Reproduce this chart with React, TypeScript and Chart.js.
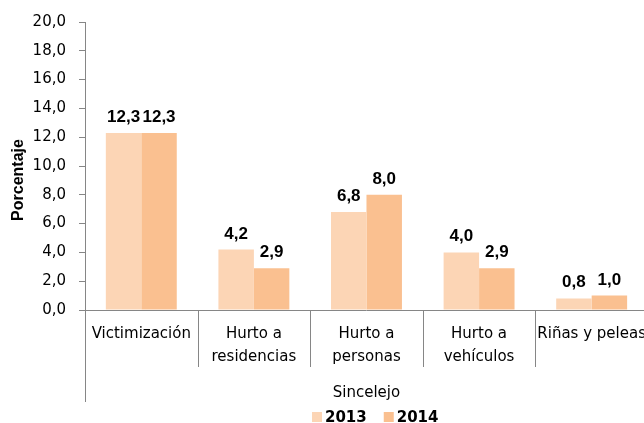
import React, { useEffect, useRef } from 'react';
import { Chart, registerables } from 'chart.js';

Chart.register(...registerables);

const categories: (string | string[])[] = [
  'Victimización',
  ['Hurto a', 'residencias'],
  ['Hurto a', 'personas'],
  ['Hurto a', 'vehículos'],
  'Riñas y peleas',
];
const series2013 = [12.3, 4.2, 6.8, 4.0, 0.8];
const series2014 = [12.3, 2.9, 8.0, 2.9, 1.0];
const seriesLabels = ['2013', '2014'];
const seriesColors = ['#FCD5B5', '#FAC090'];
const yTicksMin = 0;
const yTicksMax = 20;
const yTicksStep = 2;
const axisTitle = 'Porcentaje';
const groupTitle = 'Sincelejo';

const FONT = "'DejaVu Sans', sans-serif";
const BOLDFONT = "'Liberation Sans', Arial, sans-serif";
const GRAY = '#868686';

const fmt = (v: number) => v.toFixed(1).replace('.', ',');

const overlayPlugin = {
  id: 'overlay',
  afterDraw(chart: any) {
    const ctx = chart.ctx as CanvasRenderingContext2D;
    const area = chart.chartArea;
    const xs = chart.scales.x;
    ctx.save();

    // category separators and extended axis line
    ctx.strokeStyle = GRAY;
    ctx.lineWidth = 1;
    const n = categories.length;
    const step = xs.getPixelForValue(1) - xs.getPixelForValue(0);
    const start = xs.getPixelForValue(0) - step / 2;
    for (let i = 0; i <= n; i++) {
      const px = Math.round(start + i * step) + 0.5;
      ctx.beginPath();
      ctx.moveTo(px, area.bottom);
      ctx.lineTo(px, i === 0 ? 402 : 367);
      ctx.stroke();
    }

    // data labels
    ctx.fillStyle = '#000';
    ctx.font = `bold 17px ${BOLDFONT}`;
    ctx.textAlign = 'center';
    ctx.textBaseline = 'alphabetic';
    chart.data.datasets.forEach((ds: any, di: number) => {
      const meta = chart.getDatasetMeta(di);
      meta.data.forEach((el: any, i: number) => {
        ctx.fillText(fmt(ds.data[i]), el.x, el.y - 11);
      });
    });

    // group title
    ctx.font = `15px ${FONT}`;
    ctx.textBaseline = 'middle';
    ctx.fillText(groupTitle, (area.left + area.right) / 2, 393);

    // y axis title
    ctx.save();
    ctx.translate(19, 180);
    ctx.rotate(-Math.PI / 2);
    ctx.font = `bold 16px ${BOLDFONT}`;
    ctx.textAlign = 'center';
    ctx.textBaseline = 'middle';
    ctx.fillText(axisTitle, 0, 0);
    ctx.restore();

    // legend
    let lx = 312;
    ctx.font = `bold 15px ${FONT}`;
    ctx.textAlign = 'left';
    ctx.textBaseline = 'alphabetic';
    chart.data.datasets.forEach((ds: any) => {
      ctx.fillStyle = ds.backgroundColor;
      ctx.fillRect(lx, 412, 10, 10);
      ctx.fillStyle = '#000';
      ctx.fillText(ds.label, lx + 13, 422);
      lx += 13 + ctx.measureText(ds.label).width + 17;
    });

    ctx.restore();
  },
};

export default function App() {
  const ref = useRef<HTMLCanvasElement>(null);

  useEffect(() => {
    if (!ref.current) return;
    const chart = new Chart(ref.current, {
      type: 'bar',
      data: {
        labels: categories as any,
        datasets: [
          {
            label: seriesLabels[0],
            data: series2013,
            backgroundColor: seriesColors[0],
            borderWidth: 0,
            categoryPercentage: 0.63,
            barPercentage: 1.0,
          },
          {
            label: seriesLabels[1],
            data: series2014,
            backgroundColor: seriesColors[1],
            borderWidth: 0,
            categoryPercentage: 0.63,
            barPercentage: 1.0,
          },
        ],
      },
      options: {
        responsive: false,
        animation: false,
        devicePixelRatio: 1,
        layout: { padding: { top: 20, right: 10, bottom: 0, left: 0 } },
        plugins: {
          legend: { display: false },
          tooltip: { enabled: false },
        },
        scales: {
          x: {
            offset: true,
            grid: { display: false, drawTicks: false },
            border: { display: true, color: GRAY, width: 1 },
            ticks: {
              color: '#000',
              padding: 13,
              maxRotation: 0,
              autoSkip: false,
              font: { family: FONT, size: 15, lineHeight: 23 / 15 },
            },
            afterFit: (s: any) => {
              s.height = 113;
            },
          },
          y: {
            min: yTicksMin,
            max: yTicksMax,
            grid: { display: true, drawOnChartArea: false, drawTicks: true, tickLength: 6, color: GRAY },
            border: { display: true, color: GRAY, width: 1 },
            ticks: {
              stepSize: yTicksStep,
              color: '#000',
              padding: 13,
              font: { family: FONT, size: 15 },
              callback: (v: any) => fmt(Number(v)),
            },
            afterFit: (s: any) => {
              s.width = 85;
            },
          },
        },
      },
      plugins: [overlayPlugin],
    });
    return () => chart.destroy();
  }, []);

  return (
    <div
      style={{
        position: 'fixed',
        left: 0,
        top: 0,
        width: 644,
        height: 423,
        overflow: 'hidden',
        background: '#fff',
      }}
    >
      <canvas ref={ref} width={660} height={423} style={{ display: 'block', width: 660, height: 423 }} />
    </div>
  );
}
